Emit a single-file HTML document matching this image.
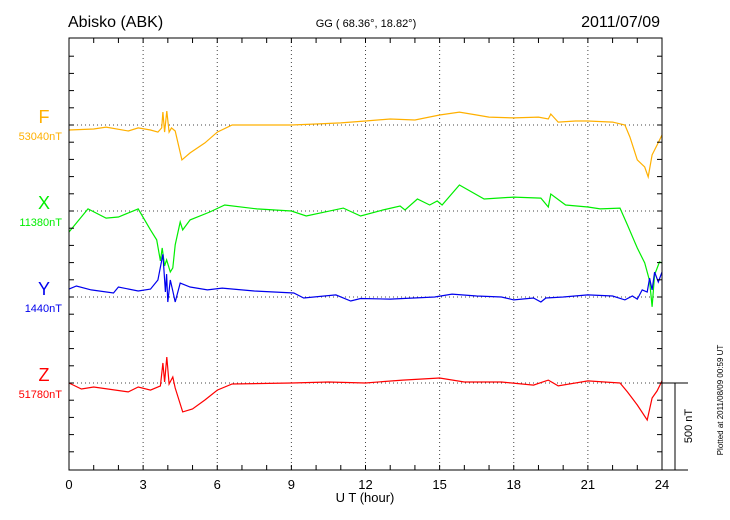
<!DOCTYPE html>
<html><head><meta charset="utf-8"><style>
body{margin:0;background:#fff;}
svg{display:block;font-family:"Liberation Sans",sans-serif;}
</style></head><body>
<svg id="c" width="730" height="520" viewBox="0 0 730 520">
<text x="68" y="27" font-size="16">Abisko (ABK)</text>
<text x="366" y="27" font-size="11" text-anchor="middle">GG ( 68.36°,  18.82°)</text>
<text x="660" y="27" font-size="16" text-anchor="end">2011/07/09</text>
<g id="grid"></g>
<g id="series"></g>
<g id="axes"></g>
<text x="365" y="502" font-size="13" text-anchor="middle">U T (hour)</text>
<text transform="translate(692,426) rotate(-90)" font-size="11" text-anchor="middle">500 nT</text>
<text transform="translate(723,400) rotate(-90)" font-size="8" text-anchor="middle">Plotted at 2011/08/09 00:59 UT</text>
</svg>
<script>
const xTicks=[0,3,6,9,12,15,18,21,24];
const compNames=["F","X","Y","Z"];
const compBaselines=["53040nT","11380nT","1440nT","51780nT"];
const fHours=[0,1,1.5,2.4,2.8,3.3,3.6,3.75,3.8,3.87,3.96,4.05,4.15,4.3,4.57,4.9,5.5,6,6.6,9,10,11,12,13,14,15,15.8,16.5,17,18,19,19.4,19.5,19.8,20.5,21,22,22.5,22.7,23,23.3,23.44,23.6,23.8,24];
const fValues=[-29,-23,-12,-35,-17,-29,-41,-17,75,-41,81,-41,-17,-35,-203,-162,-104,-41,0,0,6,12,23,35,29,58,75,58,46,41,46,35,64,17,23,23,17,0,-70,-203,-244,-302,-174,-116,-58];
const xHours=[0,0.77,1.5,2,2.8,3.3,3.55,3.7,3.77,3.87,3.95,4.1,4.2,4.3,4.5,4.6,4.9,5.7,6.3,7.6,9,9.6,11.1,11.8,12.7,13.4,13.6,14.1,14.6,14.9,15.1,15.8,16.8,18,19.1,19.4,19.5,20.1,21,21.5,22.3,22.6,23,23.3,23.5,23.6,23.7,23.9,24];
const xValues=[-122,12,-41,-35,12,-110,-168,-290,-215,-319,-284,-354,-331,-197,-64,-110,-52,-6,35,12,0,-29,17,-29,6,29,6,70,35,58,35,151,70,81,75,23,99,35,23,12,17,-81,-215,-302,-406,-557,-371,-296,-302];
const yHours=[0,0.3,0.9,1.8,2,2.8,3.3,3.6,3.8,3.9,3.95,4,4.1,4.2,4.3,4.5,4.9,5.6,6.2,7.5,9.1,9.5,10.8,11.4,11.8,13,14.8,15.5,16.5,17.5,18,18.8,19.1,19.3,20,21,22,22.5,22.8,23,23.2,23.4,23.5,23.6,23.7,23.85,24];
const yValues=[46,64,41,23,58,35,46,99,249,29,133,-29,99,35,-29,81,58,41,52,35,23,-6,12,-23,-9,-12,0,17,6,0,-17,-6,-29,-6,0,12,6,-17,6,-12,41,29,110,41,145,87,145];
const zHours=[0,0.5,1,2.4,2.8,3.3,3.7,3.8,3.87,3.96,4.05,4.2,4.3,4.6,5,5.5,6,6.6,9,10.5,12,13.5,15,16,17.5,18.8,19.4,19.8,21,22.3,22.6,23,23.4,23.6,23.8,24];
const zValues=[0,-35,-23,-52,-23,-41,-17,116,6,151,-6,35,-29,-168,-151,-99,-41,-6,0,6,0,17,29,6,6,-12,17,-17,12,0,-52,-128,-215,-87,-46,12];

const NS="http://www.w3.org/2000/svg";
const X0=69,X1=662,TOP=38,BOT=470;
const bases=[125,211,297,383];
const colors=["#ffb000","#00ee00","#0000ee","#ff0000"];
const PXNT=86/500;
const sx=h=>X0+(X1-X0)*h/24;
const sy=(i,v)=>bases[i]-v*PXNT;
function mk(tag,attrs,parent){const e=document.createElementNS(NS,tag);for(const k in attrs)e.setAttribute(k,attrs[k]);parent.appendChild(e);return e;}
const grid=document.getElementById('grid'),axes=document.getElementById('axes'),ser=document.getElementById('series');
xTicks.forEach(t=>{
  if(t>0&&t<24){const l=mk('line',{x1:sx(t),x2:sx(t),y1:TOP,y2:BOT,stroke:'#444','stroke-width':1,'stroke-dasharray':'1,3'},grid);
  
  }
  const tx=mk('text',{x:sx(t),y:489,'font-size':13,'text-anchor':'middle'},axes);tx.textContent=t;
  
  
});
bases.forEach((b,i)=>{
  const l=mk('line',{x1:X0,x2:X1,y1:b,y2:b,stroke:'#444','stroke-width':1,'stroke-dasharray':'1,3'},grid);
  
  
  const n=mk('text',{x:44,y:b-2,'font-size':18,'text-anchor':'middle',fill:colors[i]},axes);n.textContent=compNames[i];
  
  
  const v=mk('text',{x:62,y:b+15,'font-size':11,'text-anchor':'end',fill:colors[i]},axes);v.textContent=compBaselines[i];
  
  
});
// frame
mk('rect',{x:X0,y:TOP,width:X1-X0,height:BOT-TOP,fill:'none',stroke:'#000','stroke-width':1},axes);
mk('line',{x1:X1,x2:688,y1:BOT,y2:BOT,stroke:'#000'},axes);
mk('line',{x1:X1,x2:688,y1:383,y2:383,stroke:'#000'},axes);
const sb=mk('line',{x1:675,x2:675,y1:383,y2:BOT,stroke:'#000'},axes);


for(let h=1;h<24;h++){mk('line',{x1:sx(h),x2:sx(h),y1:TOP,y2:TOP+5,stroke:'#000'},axes);mk('line',{x1:sx(h),x2:sx(h),y1:BOT,y2:BOT-5,stroke:'#000'},axes);}
for(let k=-5;k<=22;k++){const y=383-k*17.2;if(y<=TOP+1||y>=BOT-1)continue;mk('line',{x1:X0,x2:X0+5,y1:y,y2:y,stroke:'#000'},axes);mk('line',{x1:X1,x2:X1-5,y1:y,y2:y,stroke:'#000'},axes);}
const sets=[[fHours,fValues],[xHours,xValues],[yHours,yValues],[zHours,zValues]];
sets.forEach(([hs,vs],i)=>{
  const pts=hs.map((h,j)=>sx(h).toFixed(1)+','+sy(i,vs[j]).toFixed(1)).join(' ');
  const p=mk('polyline',{points:pts,fill:'none',stroke:colors[i],'stroke-width':1.2},ser);
  
  
});
</script>
</body></html>
